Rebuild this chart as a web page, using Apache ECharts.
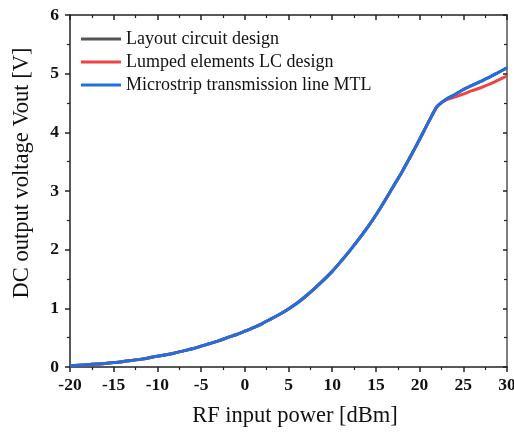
<!DOCTYPE html>
<html><head><meta charset="utf-8">
<script src="https://cdn.jsdelivr.net/npm/echarts@6/dist/echarts.min.js"></script>
<style>html,body{margin:0;padding:0;background:#fff}#c{width:514px;height:432px}</style>
</head><body><div id="c"></div>
<script>
const power = [-20,-19,-18,-17,-16,-15,-14,-13,-12,-11,-10,-9,-8,-7,-6,-5,-4,-3,-2,-1,0,1,2,3,4,5,6,7,8,9,10,11,12,13,14,15,16,17,18,19,20,21,22,23,24,25,26,27,28,29,30];
const layoutV = [0.02,0.03,0.04,0.05,0.06,0.075,0.09,0.11,0.13,0.155,0.185,0.21,0.24,0.275,0.31,0.355,0.40,0.445,0.50,0.55,0.61,0.67,0.74,0.82,0.90,0.99,1.09,1.21,1.34,1.48,1.63,1.80,1.98,2.17,2.37,2.59,2.83,3.08,3.33,3.60,3.88,4.17,4.44,4.56,4.64,4.73,4.80,4.87,4.94,5.02,5.10];
const lumpedV = [0.02,0.03,0.04,0.05,0.06,0.075,0.09,0.11,0.13,0.155,0.185,0.21,0.24,0.275,0.31,0.355,0.40,0.445,0.50,0.55,0.61,0.67,0.74,0.82,0.90,0.99,1.09,1.21,1.34,1.48,1.63,1.80,1.98,2.17,2.37,2.59,2.83,3.08,3.33,3.60,3.88,4.17,4.44,4.55,4.60,4.65,4.71,4.76,4.82,4.89,4.96];
const mtlV = [0.02,0.03,0.04,0.05,0.06,0.075,0.09,0.11,0.13,0.155,0.185,0.21,0.24,0.275,0.31,0.355,0.40,0.445,0.50,0.55,0.61,0.67,0.74,0.82,0.90,0.99,1.09,1.21,1.34,1.48,1.63,1.80,1.98,2.17,2.37,2.59,2.83,3.08,3.33,3.60,3.88,4.17,4.44,4.56,4.64,4.73,4.80,4.87,4.94,5.02,5.10];
const names = ['Layout circuit design','Lumped elements LC design','Microstrip transmission line MTL'];
const colors = ['#555555','#f04343','#1f6fe0'];
const xTitle = 'RF input power [dBm]';
const yTitle = 'DC output voltage Vout [V]';

const pair = a => power.map((x,i)=>[x,a[i]]);
const serif = 'Liberation Serif, Times New Roman, serif';
const axisLine = {show:true, onZero:false, lineStyle:{color:'#222', width:1.5}};
const chart = echarts.init(document.getElementById('c'));
chart.setOption({
  animation:false,
  grid:{left:70,right:7,top:15,bottom:65,containLabel:false,outerBoundsMode:'none'},
  legend:{
    orient:'vertical', left:76, top:25, itemWidth:40, itemHeight:3, itemGap:5,
    icon:'rect',
    textStyle:{fontFamily:serif, fontSize:18, color:'#111'},
    data:names
  },
  graphic:[
    {type:'text', x:295, y:416, style:{text:xTitle, font:'22.5px '+serif, fill:'#111', textAlign:'center', textVerticalAlign:'middle'}},
    {type:'text', x:22, y:173, rotation:Math.PI/2, style:{text:yTitle, font:'22.5px '+serif, fill:'#111', textAlign:'center', textVerticalAlign:'middle'}}
  ],
  xAxis:[{
    type:'value', min:-20, max:30, interval:5, position:'bottom',
    axisLine:axisLine,
    axisTick:{show:true, inside:false, length:5, lineStyle:{color:'#222', width:1.5}},
    minorTick:{show:true, splitNumber:2, length:3, lineStyle:{color:'#222', width:1.2}},
    axisLabel:{fontFamily:serif, fontWeight:'bold', fontSize:17.5, color:'#111', margin:9},
    splitLine:{show:false}
  },{
    type:'value', min:-20, max:30, interval:5, position:'top',
    axisLine:axisLine,
    axisTick:{show:true, inside:true, length:5, lineStyle:{color:'#222', width:1.5}},
    minorTick:{show:true, splitNumber:2, length:3, lineStyle:{color:'#222', width:1.2}},
    axisLabel:{show:false}, splitLine:{show:false}
  }],
  yAxis:[{
    type:'value', min:0, max:6, interval:1, position:'left',
    axisLine:axisLine,
    axisTick:{show:true, inside:false, length:5, lineStyle:{color:'#222', width:1.5}},
    minorTick:{show:true, splitNumber:2, length:3, lineStyle:{color:'#222', width:1.2}},
    axisLabel:{fontFamily:serif, fontWeight:'bold', fontSize:17.5, color:'#111', margin:11},
    splitLine:{show:false}
  },{
    type:'value', min:0, max:6, interval:1, position:'right',
    axisLine:{show:true, onZero:false, lineStyle:{color:'#555', width:1.5}},
    axisTick:{show:true, inside:true, length:4, lineStyle:{color:'#222', width:1.5}},
    minorTick:{show:true, splitNumber:2, length:3, lineStyle:{color:'#222', width:1.2}},
    axisLabel:{show:false}, splitLine:{show:false}
  }],
  series:[0,1,2].map(i=>({
    name:names[i], type:'line', xAxisIndex:0, yAxisIndex:0,
    data:pair([layoutV,lumpedV,mtlV][i]), showSymbol:false, smooth:0.2,
    lineStyle:{color:colors[i], width:3}, itemStyle:{color:colors[i]}, z:2+i
  }))
});
</script></body></html>
